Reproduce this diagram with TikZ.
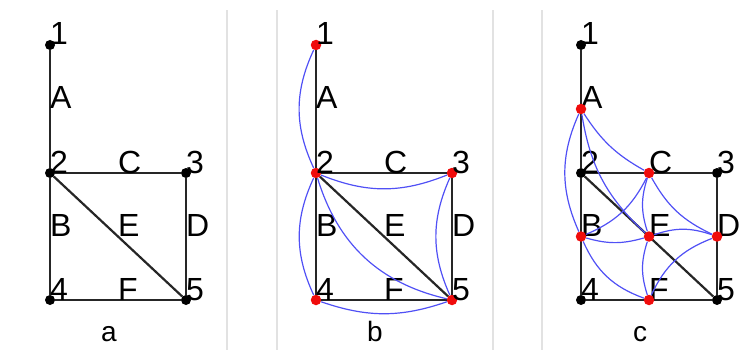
\documentclass[tikz,border=0pt]{standalone}
\usepackage{fontspec}
\setmainfont{Liberation Sans}
\usetikzlibrary{positioning}

\definecolor{curveblue}{RGB}{80,80,245}
\definecolor{hotred}{RGB}{240,12,12}
\definecolor{framegray}{RGB}{226,226,226}

\begin{document}
\begin{tikzpicture}[x=1pt, y=-1pt,
  edge/.style={draw=black!85, line width=2.2pt},
  curve/.style={draw=curveblue, line width=1.2pt},
  vtx/.style={circle, fill=black, inner sep=0pt, minimum size=10pt},
  hot/.style={circle, fill=hotred, inner sep=0pt, minimum size=10.5pt},
  lbl/.style={anchor=base west, inner sep=0pt, font=\fontsize{32}{32}\selectfont},
  frame/.style={draw=framegray, line width=2pt}]
  \path[use as bounding box, clip] (0,0) rectangle (746,350);

  % panel frames
  \draw[frame] (227,10) -- (227,350);
  \draw[frame] (277,10) -- (277,350);
  \draw[frame] (493,10) -- (493,350);
  \draw[frame] (542,10) -- (542,350);

  % the same graph in each panel
  \foreach \p/\dx/\vs in {a/0/vtx, b/266/hot, c/531/vtx} {
    \begin{scope}[xshift=\dx]
      \node[\vs] (\p1) at (50,45) {};
      \node[\vs] (\p2) at (50,173) {};
      \node[\vs] (\p3) at (186,173) {};
      \node[\vs] (\p4) at (50,300) {};
      \node[\vs] (\p5) at (186,300) {};
      \draw[edge] (\p1) -- (\p2) coordinate[midway] (\p A);
      \draw[edge] (\p2) -- (\p4) coordinate[midway] (\p B);
      \draw[edge] (\p2) -- (\p3) coordinate[midway] (\p C);
      \draw[edge] (\p3) -- (\p5) coordinate[midway] (\p D);
      \draw[edge] (\p2) -- (\p5) coordinate[midway] (\p E);
      \draw[edge] (\p4) -- (\p5) coordinate[midway] (\p F);
      \foreach \v in {1,...,5}
        \node[lbl] at (\p\v.center) {\v};
      \foreach \e in {A,B,C,D,E,F}
        \node[lbl] at (\p\e) {\e};
      \node[lbl, anchor=base, font=\fontsize{28}{28}\selectfont] (\p cap) at (109,341) {\p};
    \end{scope}
  }

  % b: curves along the edges
  \draw[curve] (b1) to[bend right=25] (b2);
  \draw[curve] (b2) to[bend right=22] (b3);
  \draw[curve] (b2) to[bend right=25] (b4);
  \draw[curve] (b3) to[bend right=24] (b5);
  \draw[curve] (b4) to[bend right=19] (b5);
  \draw[curve] (b2) to[bend right=30] (b5);

  % c: line graph on the edge midpoints
  \foreach \e in {A,B,C,D,E,F}
    \node[hot] (l\e) at (c\e) {};
  \draw[curve] (lA) to[bend right=24] (lB);
  \draw[curve] (lA) to[bend right=14] (lC);
  \draw[curve] (lA) to[bend right=19] (lE);
  \draw[curve] (lB) to[bend right=20] (lC);
  \draw[curve] (lB) to[bend right=16] (lE);
  \draw[curve] (lC) to[bend right=18] (lE);
  \draw[curve] (lC) to[bend right=18] (lD);
  \draw[curve] (lD) to[bend right=19] (lE);
  \draw[curve] (lE) to[bend right=18] (lF);
  \draw[curve] (lD) to[bend right=22] (lF);
  \draw[curve] (lB) to[bend right=23] (lF);
\end{tikzpicture}
\end{document}
